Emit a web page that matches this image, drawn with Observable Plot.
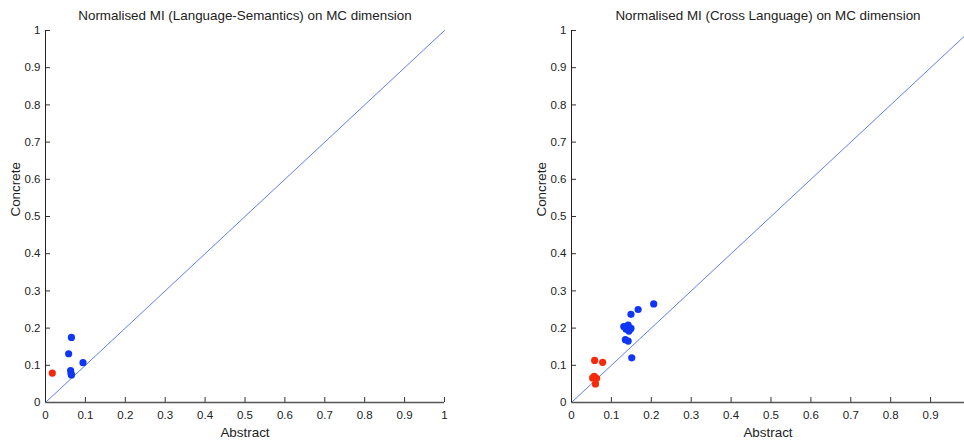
<!DOCTYPE html>
<html>
<head>
<meta charset="utf-8">
<script src="https://cdn.jsdelivr.net/npm/d3@7"></script>
<script src="https://cdn.jsdelivr.net/npm/@observablehq/plot@0.6"></script>
<style>
  body { margin: 0; background: white; }
  #wrap { display: flex; width: 964px; height: 441px; overflow: hidden; }
</style>
</head>
<body>
<div id="wrap"></div>
<script>
// ---- Data ----
const leftTitle = "Normalised MI (Language-Semantics) on MC dimension";
const rightTitle = "Normalised MI (Cross Language) on MC dimension";
const xLabel = "Abstract";
const yLabel = "Concrete";

const leftBlueX = [0.065, 0.058, 0.094, 0.063, 0.064, 0.065];
const leftBlueY = [0.175, 0.131, 0.107, 0.086, 0.078, 0.074];
const leftRedX = [0.017];
const leftRedY = [0.079];

const rightBlueX = [0.206, 0.167, 0.149, 0.131, 0.142, 0.137, 0.149, 0.144, 0.135, 0.142, 0.151];
const rightBlueY = [0.265, 0.250, 0.237, 0.204, 0.208, 0.197, 0.199, 0.192, 0.169, 0.165, 0.120];
const rightRedX = [0.058, 0.078, 0.057, 0.063, 0.053, 0.060];
const rightRedY = [0.113, 0.108, 0.070, 0.065, 0.066, 0.050];

const leftXTicks = [0, 0.1, 0.2, 0.3, 0.4, 0.5, 0.6, 0.7, 0.8, 0.9, 1];
const rightXTicks = [0, 0.1, 0.2, 0.3, 0.4, 0.5, 0.6, 0.7, 0.8, 0.9];
const yTicks = [0, 0.1, 0.2, 0.3, 0.4, 0.5, 0.6, 0.7, 0.8, 0.9, 1];
const leftXMax = 1;
const rightXMax = 0.985;

// ---- Build ----
const toPts = (xs, ys) => xs.map((x, i) => ({x, y: ys[i]}));
const fmt = d3.format("");
const BLUE = "#0f35f5";
const RED = "#f52a0c";
const LINE = "#5f7ff0";
const FONT = "'Liberation Sans', Arial, sans-serif";

function panel({title, blue, red, xMax, xTicks, width, marginLeft, marginRight}) {
  const diag = [{x: 0, y: 0}, {x: xMax, y: xMax}];
  return Plot.plot({
    width,
    height: 441,
    marginTop: 30,
    marginBottom: 39,
    marginLeft,
    marginRight,
    style: {fontFamily: FONT, fontSize: "11.5px", color: "#222", background: "white", overflow: "visible"},
    x: {domain: [0, xMax], label: null},
    y: {domain: [0, 1], label: null},
    marks: [
      Plot.axisX({ticks: xTicks, tickFormat: fmt, tickSize: -5, tickPadding: 13, stroke: "#333"}),
      Plot.axisY({ticks: yTicks, tickFormat: fmt, tickSize: -5, tickPadding: 10, stroke: "#333"}),
      Plot.ruleY([0], {stroke: "#555", strokeWidth: 1.5}),
      Plot.ruleX([0], {stroke: "#222"}),
      Plot.line(diag, {x: "x", y: "y", stroke: LINE, strokeWidth: 1}),
      Plot.dot(blue, {x: "x", y: "y", r: 3.6, fill: BLUE, stroke: null}),
      Plot.dot(red, {x: "x", y: "y", r: 3.6, fill: RED, stroke: null}),
      Plot.text([title], {frameAnchor: "top", lineAnchor: "middle", dy: -15, fontSize: 13.4, fill: "#222"}),
      Plot.text([xLabel], {frameAnchor: "bottom", lineAnchor: "middle", dy: 30, fontSize: 13.4, fill: "#222"}),
      Plot.text([yLabel], {frameAnchor: "left", dx: -30, rotate: -90, fontSize: 13.4, fill: "#222"})
    ]
  });
}

const wrap = document.getElementById("wrap");
wrap.append(panel({
  title: leftTitle,
  blue: toPts(leftBlueX, leftBlueY),
  red: toPts(leftRedX, leftRedY),
  xMax: leftXMax, xTicks: leftXTicks,
  width: 482, marginLeft: 45, marginRight: 38
}));
wrap.append(panel({
  title: rightTitle,
  blue: toPts(rightBlueX, rightBlueY),
  red: toPts(rightRedX, rightRedY),
  xMax: rightXMax, xTicks: rightXTicks,
  width: 482, marginLeft: 89, marginRight: 0
}));
</script>
</body>
</html>
